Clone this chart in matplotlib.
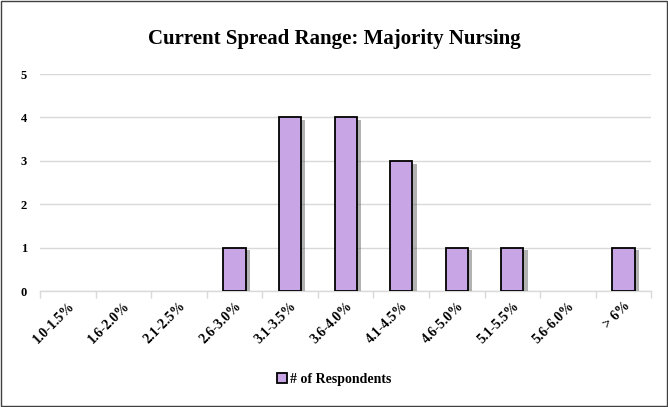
import numpy as np
import matplotlib.pyplot as plt
import matplotlib.patheffects as pe
from matplotlib.patches import Rectangle, Patch

categories = ['1.0-1.5%', '1.6-2.0%', '2.1-2.5%', '2.6-3.0%', '3.1-3.5%', '3.6-4.0%',
              '4.1-4.5%', '4.6-5.0%', '5.1-5.5%', '5.6-6.0%', '> 6%']
respondents = [0, 0, 0, 1, 4, 4, 3, 1, 1, 0, 1]
yticks = [0, 1, 2, 3, 4, 5]

plt.rcParams['font.family'] = ['Liberation Serif', 'DejaVu Serif']

bar_color = '#C8A6E6'

fig = plt.figure(figsize=(6.68, 4.07), dpi=100)
ax = fig.add_axes([0.06, 0.285, 0.915, 0.533])

x = np.arange(len(categories))
bars = ax.bar(x, respondents, width=0.4, color=bar_color, edgecolor='black',
              linewidth=1.3, zorder=3)
for b, v in zip(bars, respondents):
    if v == 0:
        b.set_visible(False)
        continue
    b.set_path_effects([pe.SimplePatchShadow(offset=(3, -2), shadow_rgbFace='#555555', alpha=0.45),
                        pe.Normal()])

ax.set_xlim(-0.5, len(categories) - 0.5)
ax.set_ylim(0, 5)
ax.set_yticks(yticks)
ax.set_yticklabels([str(v) for v in yticks], fontsize=9, fontweight='bold')
ax.set_xticks(x)
ax.set_xticklabels(categories, rotation=45, ha='right', rotation_mode='anchor',
                   fontsize=10, fontweight='bold')
ax.set_xticks(np.arange(-0.5, len(categories)), minor=True)
ax.tick_params(axis='x', which='major', length=0, pad=6)
ax.tick_params(axis='x', which='minor', length=5, color='#D9D9D9', width=1)
ax.tick_params(axis='y', length=0, pad=14)
for lab in ax.get_yticklabels():
    lab.set_horizontalalignment('left')
ax.grid(axis='y', color='#D9D9D9', linewidth=1, zorder=0)
for s in ['top', 'right', 'left']:
    ax.spines[s].set_visible(False)
ax.spines['bottom'].set_color('#D9D9D9')
ax.spines['bottom'].set_linewidth(1)

fig.text(0.5, 0.905, 'Current Spread Range: Majority Nursing', ha='center', va='center',
         fontsize=15, fontweight='bold')

handle = Patch(facecolor=bar_color, edgecolor='black', linewidth=1.3)
fig.legend(handles=[handle], labels=['# of Respondents'], loc='center',
           bbox_to_anchor=(0.5, 0.068), frameon=False,
           prop={'weight': 'bold', 'size': 10}, handlelength=0.7, handleheight=0.7,
           handletextpad=0.2)

fig.patches.append(Rectangle((0.002, 0.003), 0.996, 0.994, transform=fig.transFigure,
                             fill=False, edgecolor='#404040', linewidth=1.0))

fig.savefig('out.png', dpi=100)
